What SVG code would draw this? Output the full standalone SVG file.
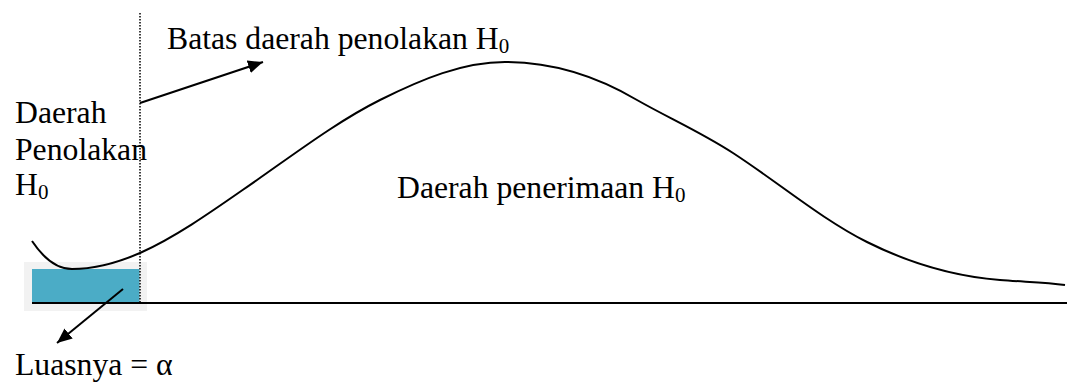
<svg xmlns="http://www.w3.org/2000/svg" width="1069" height="386" viewBox="0 0 1069 386">
  <style>
    .t { font-family: "Liberation Serif", "Times New Roman", serif; font-size: 31.7px; fill: #000; }
    .sub { font-size: 21px; }
    .ln { stroke: #000; stroke-width: 2; fill: none; }
  </style>
  <defs>
    <marker id="ah" markerUnits="userSpaceOnUse" markerWidth="16" markerHeight="13" refX="15" refY="6.5" orient="auto">
      <path d="M0,0 L15,6.5 L0,13 z" fill="#000"/>
    </marker>
  </defs>
  <rect width="1069" height="386" fill="#fff"/>

  <g id="rejection-area">
    <rect x="24" y="262" width="123" height="49" fill="#f2f2f2"/>
    <rect x="32" y="269" width="107.5" height="34" fill="#4bacc6"/>
  </g>

  <g id="axis">
    <line x1="32" y1="303" x2="1067" y2="303" class="ln"/>
  </g>

  <g id="boundary">
    <line x1="140" y1="13" x2="140" y2="303" stroke="#000" stroke-width="1.5" stroke-dasharray="1.5 1.5"/>
  </g>

  <g id="curve">
    <path class="ln" d="M32,241 C42,256 55,269 72,269 C95,269 117,263 140,253 C179,235.5 218,207 257,180 C298,151.3 339,120.5 380,100 C422,79 463,62 505,62 C549,62 593,74 637,100 C669,118.2 701,132.2 733,153 C777.7,182 822.3,219.7 867,242 C911,264 956,276.5 1000,280 C1025,282 1045,282 1065,285"/>
  </g>

  <g id="connectors">
    <line x1="140" y1="103" x2="263" y2="62" class="ln" marker-end="url(#ah)"/>
    <line x1="123" y1="289" x2="57" y2="343" class="ln" marker-end="url(#ah)"/>
  </g>

  <g id="label-batas">
    <text class="t" x="167" y="49">Batas daerah penolakan H<tspan class="sub" dy="4">0</tspan></text>
  </g>
  <g id="label-penolakan">
    <text class="t" x="15" y="123">Daerah</text>
    <text class="t" x="15" y="160">Penolakan</text>
    <text class="t" x="15" y="195">H<tspan class="sub" dy="4">0</tspan></text>
  </g>
  <g id="label-penerimaan">
    <text class="t" x="397" y="198">Daerah penerimaan H<tspan class="sub" dy="4">0</tspan></text>
  </g>
  <g id="label-luas">
    <text class="t" x="15" y="375">Luasnya = α</text>
  </g>
</svg>
